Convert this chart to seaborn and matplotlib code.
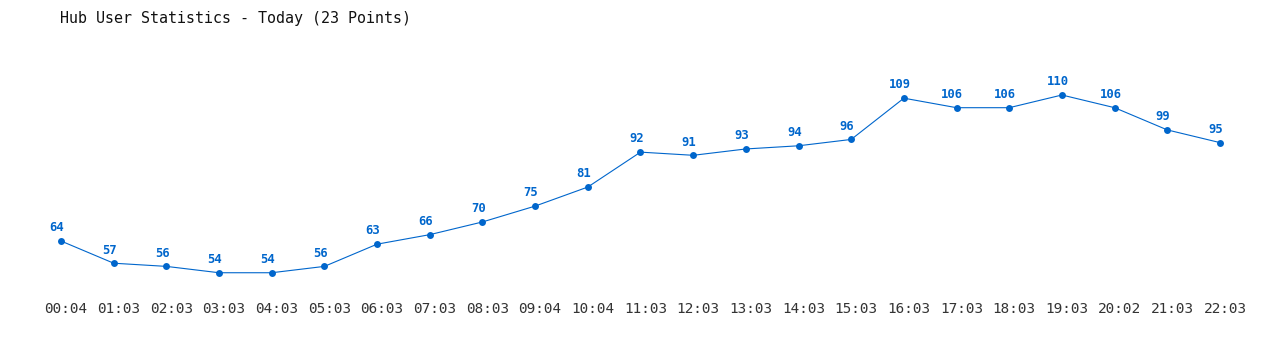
import matplotlib
matplotlib.use("Agg")
import matplotlib.pyplot as plt
import matplotlib.transforms as mtransforms
import seaborn as sns
import pandas as pd

times = ["00:04", "01:03", "02:03", "03:03", "04:03", "05:03", "06:03", "07:03",
         "08:03", "09:04", "10:04", "11:03", "12:03", "13:03", "14:03", "15:03",
         "16:03", "17:03", "18:03", "19:03", "20:02", "21:03", "22:03"]
users = [64, 57, 56, 54, 54, 56, 63, 66, 70, 75, 81, 92, 91, 93, 94, 96,
         109, 106, 106, 110, 106, 99, 95]
title = "Hub User Statistics - Today (23 Points)"

sns.set_theme(style="white")
plt.rcParams['font.family'] = ['DejaVu Sans Mono', 'DejaVu Sans']

df = pd.DataFrame({"idx": list(range(len(times))), "users": users})
color = "#0066cc"

fig = plt.figure(figsize=(12.8, 3.5), dpi=100)
ax = fig.add_axes([0.03125, 0.142857, 0.9375, 0.742857])
sns.lineplot(data=df, x="idx", y="users", ax=ax, color=color, linewidth=0.8,
             marker="o", markersize=5, markeredgewidth=0, markerfacecolor=color)

for i, v in enumerate(users):
    ax.annotate(str(v), (i, v), xytext=(-3, 9.5), textcoords="offset points",
                ha="center", va="center", fontsize=8.8, fontweight="bold", color=color)

ax.set_xlim(-0.3986, 22.38)
ax.set_ylim(45.41, 127.33)
ax.set_xticks(range(len(times)))
ax.set_xticklabels(times, fontsize=10.4, color="#333333")
ax.tick_params(axis="x", length=0, pad=1.5)
offset = mtransforms.ScaledTranslation(5 / 100, 0, fig.dpi_scale_trans)
for lbl in ax.get_xticklabels():
    lbl.set_transform(lbl.get_transform() + offset)
ax.set_yticks([])
ax.set_xlabel("")
ax.set_ylabel("")
for s in ax.spines.values():
    s.set_visible(False)

fig.text(60 / 1280, 1 - 18 / 350, title, fontsize=10.8, color="#111111",
         ha="left", va="center")

fig.savefig("out.png", dpi=100)
